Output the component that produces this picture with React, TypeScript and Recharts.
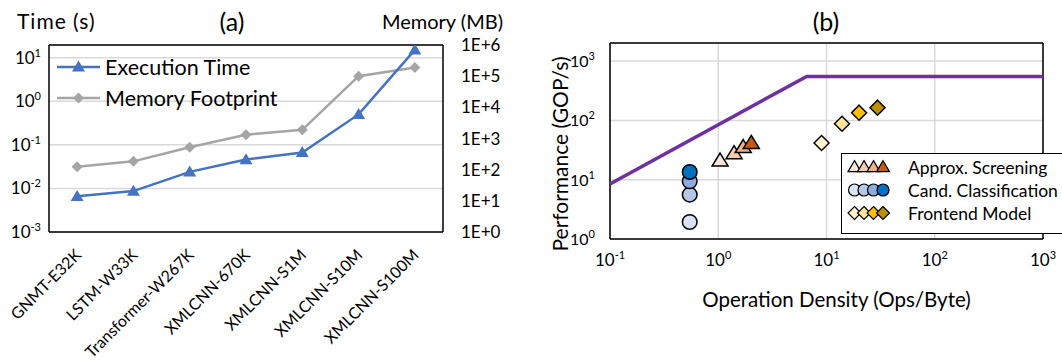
import React from "react";
import {
  CartesianGrid,
  Cell,
  ComposedChart,
  Label,
  Legend,
  Line,
  ReferenceLine,
  Scatter,
  XAxis,
  YAxis,
} from "recharts";

const FONT = "Lato, 'Open Sans', sans-serif";
const BLUE = "#4472C4";
const GRAY = "#A5A5A5";
const PURPLE = "#7030A0";
const GRID = "#d9d9d9";

// (a) execution time and memory footprint per model
const models = [
  "GNMT-E32K",
  "LSTM-W33K",
  "Transformer-W267K",
  "XMLCNN-670K",
  "XMLCNN-S1M",
  "XMLCNN-S10M",
  "XMLCNN-S100M",
];
const execTime = [0.0066, 0.0087, 0.024, 0.046, 0.067, 0.5, 15.1];
const memoryMB = [125, 185, 525, 1320, 1900, 100000, 190000];
const timeTicks = [0.001, 0.01, 0.1, 1, 10];
const memTicks = [1, 10, 100, 1000, 10000, 100000, 1000000];

// (b) roofline
const densityTicks = [0.1, 1, 10, 100, 1000];
const perfTicks = [1, 10, 100, 1000];
const roofX = [0.1, 6.55, 1000];
const roofY = [8.45, 552, 552];
const screenX = [1.04, 1.4, 1.7, 2.02];
const screenY = [21, 28, 35.5, 41.7];
const classX = [0.545, 0.545, 0.545, 0.545];
const classY = [1.94, 5.6, 9.4, 13.5];
const frontX = [9.0, 13.9, 20, 29.6];
const frontY = [41.6, 88, 135, 164];

const screenColors = ["#FBE5D6", "#F8CBAD", "#F4B183", "#C55A11"];
const classColors = ["#DAE3F3", "#B4C7E7", "#8FAADC", "#0070C0"];
const frontColors = ["#FFF2CC", "#FFE699", "#FFC000", "#BF9000"];

const timeData = models.map((name, i) => ({ name, time: execTime[i], mem: memoryMB[i] }));
const roofData = roofX.map((x, i) => ({ x, y: roofY[i] }));
const screenData = screenX.map((x, i) => ({ x, y: screenY[i] }));
const classData = classX.map((x, i) => ({ x, y: classY[i] }));
const frontData = frontX.map((x, i) => ({ x, y: frontY[i] }));

function triPts(cx: number, cy: number, w: number, h: number) {
  return `${cx},${cy - h * 0.58} ${cx + w / 2},${cy + h * 0.42} ${cx - w / 2},${cy + h * 0.42}`;
}
function diaPts(cx: number, cy: number, r: number) {
  return `${cx},${cy - r} ${cx + r},${cy} ${cx},${cy + r} ${cx - r},${cy}`;
}

function PowTick(props: any) {
  const { x, y, payload, anchor, dx, dy, size = 17 } = props;
  const exp = Math.round(Math.log10(payload.value));
  return (
    <text x={x + dx} y={y + dy} textAnchor={anchor} fontSize={size} fontFamily={FONT} fill="#000">
      <tspan>10</tspan>
      <tspan dy={-7} fontSize={11}>
        {exp}
      </tspan>
    </text>
  );
}

function MemTick(props: any) {
  const { x, y, payload } = props;
  const exp = Math.round(Math.log10(payload.value));
  return (
    <text x={x + 10} y={y + 6} textAnchor="start" fontSize={17} fontFamily={FONT} fill="#000">
      {"1E+" + exp}
    </text>
  );
}

function ModelTick(props: any) {
  const { x, y, payload } = props;
  const ax = x + 5;
  const ay = y + 16;
  return (
    <text
      x={ax}
      y={ay}
      transform={`rotate(-45, ${ax}, ${ay})`}
      textAnchor="end"
      fontSize={16}
      fontFamily={FONT}
      fill="#000"
    >
      {payload.value}
    </text>
  );
}

function TimeLegend() {
  const rows = [
    { name: "Execution Time", color: BLUE, tri: true },
    { name: "Memory Footprint", color: GRAY, tri: false },
  ];
  return (
    <div>
      {rows.map((r) => (
        <div key={r.name} style={{ display: "flex", alignItems: "center", height: 31 }}>
          <svg width={46} height={20}>
            <line x1={2} y1={10} x2={45} y2={10} stroke={r.color} strokeWidth={2.5} />
            {r.tri ? (
              <polygon points={triPts(23.5, 10, 13, 11)} fill={r.color} />
            ) : (
              <polygon points={diaPts(23.5, 10, 5.5)} fill={r.color} />
            )}
          </svg>
          <span style={{ marginLeft: 4, fontSize: 21.5, fontFamily: FONT, color: "#000" }}>{r.name}</span>
        </div>
      ))}
    </div>
  );
}

function RoofLegend() {
  const rows = [
    { name: "Approx. Screening", colors: screenColors, kind: "tri" },
    { name: "Cand. Classification", colors: classColors, kind: "circle" },
    { name: "Frontend Model", colors: frontColors, kind: "dia" },
  ];
  return (
    <div
      style={{
        border: "1.3px solid #000",
        background: "#fff",
        width: 240,
        boxSizing: "border-box",
        padding: "2px 0 8px 0",
      }}
    >
      {rows.map((r) => (
        <div key={r.name} style={{ display: "flex", alignItems: "center", height: 23 }}>
          <svg width={62} height={20}>
            {r.colors.map((c, k) => {
              const cx = 12.5 + k * 9.5;
              if (r.kind === "tri")
                return <polygon key={k} points={triPts(cx, 10, 13, 11)} fill={c} stroke="#000" strokeWidth={1.2} />;
              if (r.kind === "circle")
                return <circle key={k} cx={cx} cy={10} r={6} fill={c} stroke="#000" strokeWidth={1.2} />;
              return <polygon key={k} points={diaPts(cx, 10, 6.5)} fill={c} stroke="#000" strokeWidth={1.2} />;
            })}
          </svg>
          <span style={{ marginLeft: 4, fontSize: 17.5, fontFamily: FONT, color: "#000", whiteSpace: "nowrap" }}>
            {r.name}
          </span>
        </div>
      ))}
    </div>
  );
}

function LeftChart() {
  return (
    <ComposedChart width={540} height={362} data={timeData} margin={{ top: 45, right: 37, bottom: 30, left: 9 }}>
      <CartesianGrid yAxisId="t" vertical={false} stroke={GRID} strokeWidth={1.5} />
      <XAxis
        dataKey="name"
        type="category"
        scale="band"
        height={100}
        interval={0}
        tickLine={false}
        axisLine={{ stroke: "#000", strokeWidth: 1.5 }}
        tick={(p: any) => <ModelTick {...p} />}
      />
      <YAxis
        yAxisId="t"
        scale="log"
        domain={[0.001, 19.6]}
        ticks={timeTicks}
        allowDataOverflow
        width={40}
        tickLine={false}
        axisLine={{ stroke: "#000", strokeWidth: 1.5 }}
        tick={(p: any) => <PowTick {...p} anchor="end" dx={0} dy={6} />}
      />
      <YAxis
        yAxisId="m"
        orientation="right"
        scale="log"
        domain={[1, 1000000]}
        ticks={memTicks}
        allowDataOverflow
        width={60}
        tickLine={false}
        axisLine={{ stroke: "#000", strokeWidth: 1.5 }}
        tick={(p: any) => <MemTick {...p} />}
      />
      <ReferenceLine yAxisId="t" y={19.6} stroke="#000" strokeWidth={1.5} />
      <Line
        yAxisId="m"
        dataKey="mem"
        stroke={GRAY}
        strokeWidth={2.5}
        isAnimationActive={false}
        dot={(p: any) => <polygon key={p.index} points={diaPts(p.cx, p.cy, 5.5)} fill={GRAY} />}
      />
      <Line
        yAxisId="t"
        dataKey="time"
        stroke={BLUE}
        strokeWidth={2.5}
        isAnimationActive={false}
        dot={(p: any) => <polygon key={p.index} points={triPts(p.cx, p.cy, 13, 11)} fill={BLUE} />}
      />
      <Legend
        layout="vertical"
        align="center"
        verticalAlign="middle"
        content={() => <TimeLegend />}
        wrapperStyle={{ left: 55, top: 51.5, width: 240 }}
      />
    </ComposedChart>
  );
}

function RightChart() {
  return (
    <ComposedChart width={522} height={362} margin={{ top: 43, right: 19, bottom: 53, left: 20 }}>
      <CartesianGrid stroke={GRID} strokeWidth={1.5} />
      <XAxis
        type="number"
        dataKey="x"
        scale="log"
        domain={[0.1, 1000]}
        ticks={densityTicks}
        allowDataOverflow
        height={70}
        tickLine={false}
        axisLine={{ stroke: "#000", strokeWidth: 1.5 }}
        tick={(p: any) => <PowTick {...p} anchor="middle" dx={0} dy={19} />}
      >
        <Label
          content={(p: any) => {
            const vb = p.viewBox;
            return (
              <text
                x={vb.x + vb.width / 2 + 10}
                y={vb.y + 68}
                textAnchor="middle"
                fontSize={20.5}
                fontFamily={FONT}
                fill="#000"
              >
                Operation Density (Ops/Byte)
              </text>
            );
          }}
        />
      </XAxis>
      <YAxis
        type="number"
        dataKey="y"
        scale="log"
        domain={[1, 2020]}
        ticks={perfTicks}
        allowDataOverflow
        width={50}
        tickLine={false}
        axisLine={{ stroke: "#000", strokeWidth: 1.5 }}
        tick={(p: any) => <PowTick {...p} anchor="end" dx={-7} dy={6} size={16} />}
      >
        <Label
          content={(p: any) => {
            const vb = p.viewBox;
            const cx = vb.x - 1;
            const cy = vb.y + vb.height / 2 + 13;
            return (
              <text
                x={cx}
                y={cy}
                transform={`rotate(-90, ${cx}, ${cy})`}
                textAnchor="middle"
                dominantBaseline="central"
                fontSize={21}
                fontFamily={FONT}
                fill="#000"
              >
                Performance (GOP/s)
              </text>
            );
          }}
        />
      </YAxis>
      <ReferenceLine y={2020} stroke="#000" strokeWidth={1.5} />
      <ReferenceLine x={1000} stroke="#000" strokeWidth={1.5} />
      <Scatter
        data={roofData}
        fill={PURPLE}
        line={{ stroke: PURPLE, strokeWidth: 3.5 }}
        shape={() => <g />}
        isAnimationActive={false}
      />
      <Scatter
        data={classData}
        isAnimationActive={false}
        shape={(p: any) => <circle cx={p.cx} cy={p.cy} r={7.3} fill={p.fill} stroke="#000" strokeWidth={1.5} />}
      >
        {classData.map((_, i) => (
          <Cell key={i} fill={classColors[i]} />
        ))}
      </Scatter>
      <Scatter
        data={screenData}
        isAnimationActive={false}
        shape={(p: any) => (
          <polygon points={triPts(p.cx, p.cy, 16, 13)} fill={p.fill} stroke="#000" strokeWidth={1.5} />
        )}
      >
        {screenData.map((_, i) => (
          <Cell key={i} fill={screenColors[i]} />
        ))}
      </Scatter>
      <Scatter
        data={frontData}
        isAnimationActive={false}
        shape={(p: any) => (
          <polygon points={diaPts(p.cx, p.cy, 7.5)} fill={p.fill} stroke="#000" strokeWidth={1.5} />
        )}
      >
        {frontData.map((_, i) => (
          <Cell key={i} fill={frontColors[i]} />
        ))}
      </Scatter>
      <Legend
        layout="vertical"
        align="center"
        verticalAlign="middle"
        content={() => <RoofLegend />}
        wrapperStyle={{ left: 301, top: 152.5, width: 240 }}
      />
    </ComposedChart>
  );
}

export default function App() {
  return (
    <div
      style={{
        position: "absolute",
        left: 0,
        top: 0,
        width: 1062,
        height: 362,
        overflow: "hidden",
        background: "#fff",
        fontFamily: FONT,
      }}
    >
      <div style={{ position: "absolute", left: 0, top: 0 }}>
        <LeftChart />
      </div>
      <div style={{ position: "absolute", left: 540, top: 0 }}>
        <RightChart />
      </div>
      <svg
        width={1062}
        height={40}
        style={{ position: "absolute", left: 0, top: 0, pointerEvents: "none" }}
        fontFamily={FONT}
      >
        <text x={17} y={29} fontSize={21} letterSpacing={1} fill="#000">
          Time (s)
        </text>
        <text x={232} y={31} fontSize={25} textAnchor="middle" fill="#000">
          (a)
        </text>
        <text x={503} y={29} fontSize={20} textAnchor="end" fill="#000">
          Memory (MB)
        </text>
        <text x={826} y={31} fontSize={25} textAnchor="middle" fill="#000">
          (b)
        </text>
      </svg>
    </div>
  );
}
